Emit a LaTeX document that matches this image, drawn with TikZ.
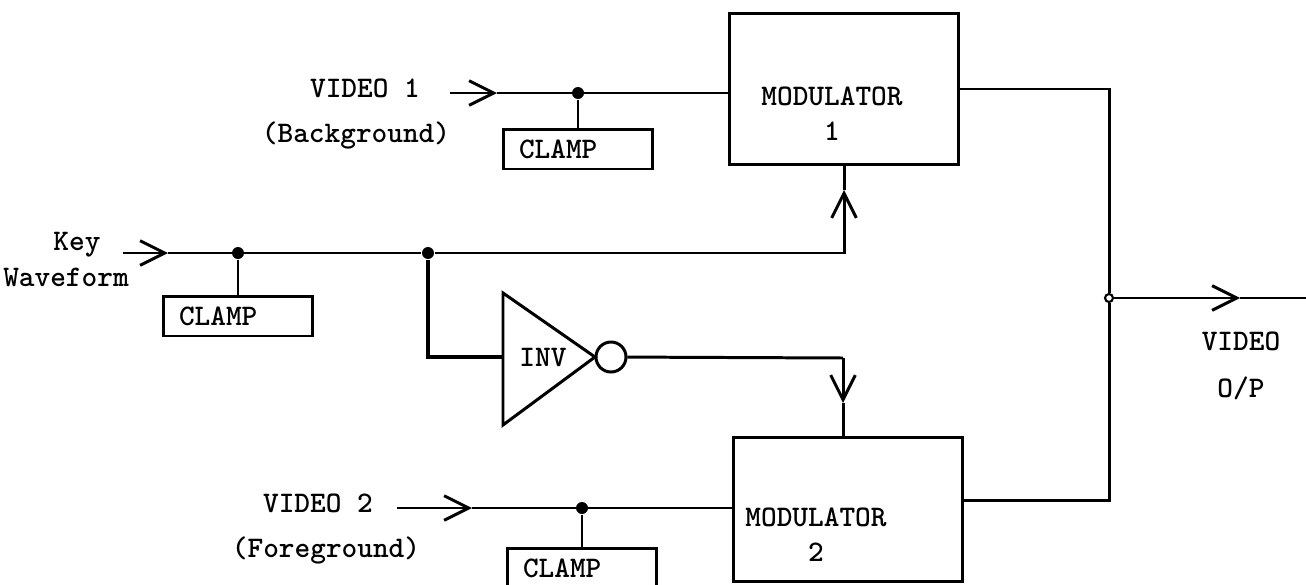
\documentclass[tikz,border=0pt]{standalone}
\usepackage{fontspec}
\usetikzlibrary{arrows.meta}
\newcommand{\typew}{\fontsize{17}{20}\selectfont\ttfamily\bfseries}

\begin{document}
\begin{tikzpicture}[x=0.02cm,y=-0.02cm,line width=1.7pt,
  every node/.style={font=\typew},
  modbox/.style={draw,minimum width=4.6cm,inner sep=0pt},
  clampbox/.style={draw,text width=2.36cm,inner xsep=0.32cm,minimum height=0.8cm,align=left},
  dot/.style={circle,fill,inner sep=0pt,minimum size=0.24cm},
  opendot/.style={circle,draw,line width=1.2pt,inner sep=0pt,minimum size=0.16cm},
  bubble/.style={circle,draw,inner sep=0pt,minimum size=0.6cm},
  barb/.style={-{Straight Barb[length=14pt,width=14pt]}}]
  \useasboundingbox (0,0) rectangle (1306,585);
  \clip (0,0) rectangle (1306,585);

  % Modulators
  \node[modbox,minimum height=3.04cm] (mod1) at (844,89) {};
  \node[align=center] (mtxt1) at (832,114) {MODULATOR\\1};
  \node[modbox,minimum height=2.9cm] (mod2) at (848,509.5) {};
  \node[align=center] (mtxt2) at (816,535) {MODULATOR\\2};

  % Video 1 (background) input with clamp
  \node (vid1) at (365,88) {VIDEO 1};
  \node (bg) at (356,135) {(Background)};
  \coordinate (v1in) at (450,93);
  \coordinate (v1tip) at (497,93);
  \node[dot] (d1) at (578,93) {};
  \node[clampbox] (c1) at (578,149) {CLAMP};
  \draw[barb] (v1in) -- (v1tip);
  \draw (v1tip) -- (mod1.west |- v1tip);
  \draw (d1) -- (c1.north);

  % Key waveform input with clamp
  \node (key) at (77,245) {Key};
  \node (wave) at (66,277) {Waveform};
  \coordinate (kin) at (123,253);
  \coordinate (ktip) at (168,253);
  \node[dot] (d2) at (238,253) {};
  \node[dot] (d3) at (428,253) {};
  \node[clampbox] (c2) at (238,316) {CLAMP};
  \coordinate (k1tip) at (844,190);
  \draw[barb] (kin) -- (ktip);
  \draw (ktip) -- (d3);
  \draw[barb] (d3) -| (k1tip);
  \draw (k1tip) -- (mod1.south);
  \draw (d2) -- (c2.north);

  % Inverter
  \coordinate (tria) at (503,293);
  \coordinate (trib) at (595,357);
  \coordinate (tric) at (503,425);
  \coordinate (invin) at (503,357);
  \draw (tria) -- (trib) -- (tric) -- cycle;
  \node (inv) at (543,357) {INV};
  \node[bubble] (bub) at (611,357) {};
  \draw[line width=2.4pt] (d3) |- (invin);
  \coordinate (ibend) at (843,358);
  \coordinate (itip) at (843,403);
  \draw (bub) -- (ibend);
  \draw[barb] (ibend) -- (itip);
  \draw (itip) -- (mod2.north -| itip);

  % Video 2 (foreground) input with clamp
  \node (vid2) at (318,503) {VIDEO 2};
  \node (fg) at (326,550) {(Foreground)};
  \coordinate (v2in) at (397,508);
  \coordinate (v2tip) at (472,508);
  \node[dot] (d4) at (582,508) {};
  \node[clampbox] (c3) at (582,568) {CLAMP};
  \draw[barb] (v2in) -- (v2tip);
  \draw (v2tip) -- (mod2.west |- v2tip);
  \draw (d4) -- (c3.north);

  % Output
  \node[opendot] (junc) at (1109,298) {};
  \coordinate (m2out) at ([yshift=0.18cm]mod2.east);
  \coordinate (otip) at (1240,298);
  \coordinate (oend) at (1306,298);
  \draw (mod1.east) -| (junc);
  \draw (m2out) -| (junc);
  \draw[barb] (junc) -- (otip);
  \draw (otip) -- (oend);
  \node[align=center] (vout) at (1241,366) {VIDEO\\[6.6pt]O/P};
\end{tikzpicture}
\end{document}
